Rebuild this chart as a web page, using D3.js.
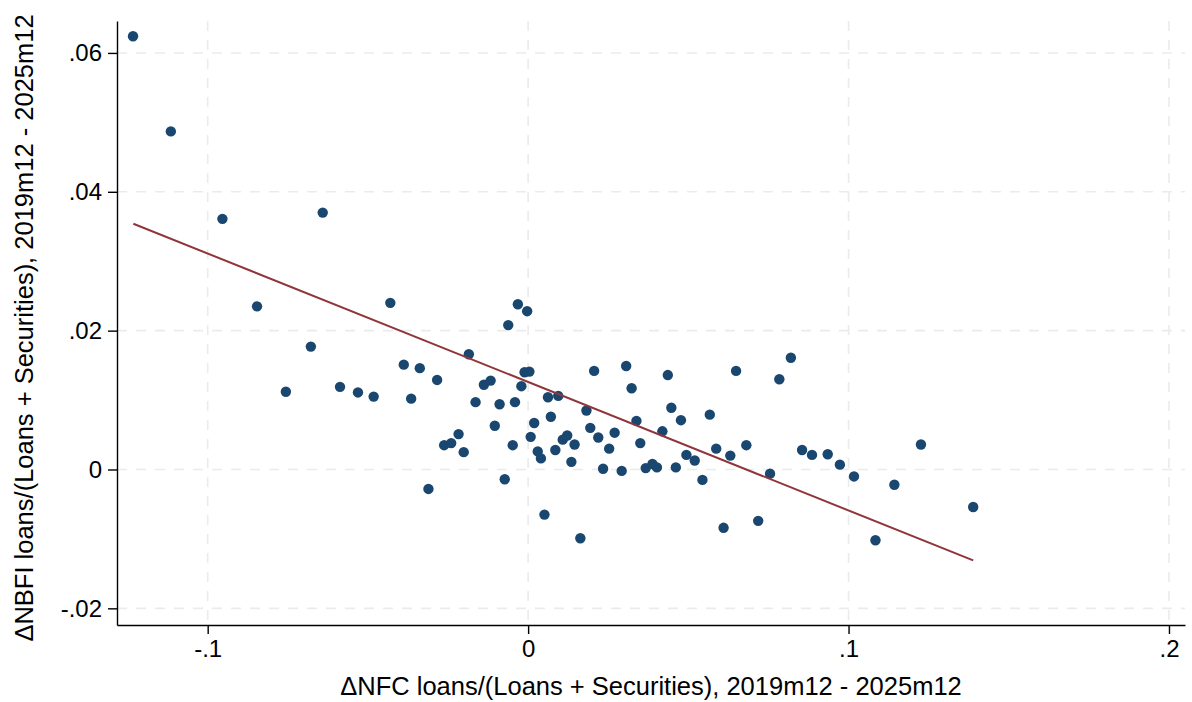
<!DOCTYPE html>
<html>
<head>
<meta charset="utf-8">
<script src="https://cdn.jsdelivr.net/npm/d3@7"></script>
<style>
  body { margin: 0; background: #fff; }
  svg { display: block; font-family: "Liberation Sans", Arial, sans-serif; }
  .grid line { stroke: #ebebeb; stroke-width: 1.6; stroke-dasharray: 10,9; }
  .axis path, .axis line { stroke: #000; stroke-width: 1.4; }
  .axis text { fill: #000; font-size: 24px; }
  .title { fill: #000; font-size: 25.5px; }
</style>
</head>
<body>
<div id="chart"></div>
<script>
// change in NFC loans share (x) vs change in NBFI loans share (y)
var nfcChange = [
  -0.1233, -0.1115, -0.0954, -0.0846, -0.0641, -0.0756, -0.0678, -0.0587, -0.0531, -0.0482,
  -0.0430, -0.0388, -0.0365, -0.0338, -0.0311, -0.0284, -0.0262, -0.0240, -0.0217, -0.0201,
  -0.0185, -0.0164, -0.0138, -0.0117, -0.0104, -0.0089, -0.0073, -0.0062, -0.0048, -0.0041,
  -0.0032, -0.0021, -0.0011, -0.0003, 0.0004, 0.0008, 0.0019, 0.0030, 0.0040, 0.0051,
  0.0062, 0.0071, 0.0085, 0.0094, 0.0108, 0.0122, 0.0135, 0.0145, 0.0163, 0.0182,
  0.0194, 0.0206, 0.0219, 0.0234, 0.0253, 0.0270, 0.0292, 0.0306, 0.0323, 0.0338,
  0.0350, 0.0367, 0.0388, 0.0402, 0.0419, 0.0436, 0.0447, 0.0461, 0.0477, 0.0494,
  0.0520, 0.0544, 0.0567, 0.0587, 0.0610, 0.0631, 0.0649, 0.0681, 0.0718, 0.0755,
  0.0784, 0.0820, 0.0855, 0.0886, 0.0935, 0.0973, 0.1017, 0.1084, 0.1143, 0.1226,
  0.1389
];
var nbfiChange = [
  0.0624, 0.0487, 0.0361, 0.0235, 0.0370, 0.0112, 0.0177, 0.0119, 0.0111, 0.0105,
  0.0240, 0.0151, 0.0102, 0.0146, -0.0028, 0.0129, 0.0035, 0.0038, 0.0051, 0.0025,
  0.0166, 0.0097, 0.0122, 0.0128, 0.0063, 0.0094, -0.0014, 0.0208, 0.0035, 0.0097,
  0.0238, 0.0120, 0.0140, 0.0228, 0.0141, 0.0047, 0.0067, 0.0026, 0.0016, -0.0065,
  0.0104, 0.0076, 0.0028, 0.0106, 0.0043, 0.0049, 0.0011, 0.0036, -0.0099, 0.0085,
  0.0060, 0.0142, 0.0046, 0.0001, 0.0030, 0.0053, -0.0002, 0.0149, 0.0117, 0.0070,
  0.0038, 0.0002, 0.0008, 0.0003, 0.0055, 0.0136, 0.0089, 0.0003, 0.0071, 0.0021,
  0.0013, -0.0015, 0.0079, 0.0030, -0.0084, 0.0020, 0.0142, 0.0035, -0.0074, -0.0006,
  0.0130, 0.0161, 0.0028, 0.0021, 0.0022, 0.0007, -0.0010, -0.0102, -0.0022, 0.0036,
  -0.0054
];

// fitted line endpoints
var fitX = [-0.1232, 0.1389];
var fitY = [0.0354, -0.0131];

var xTicks = [-0.1, 0, 0.1, 0.2];
var xTickLabels = ['-.1', '0', '.1', '.2'];
var yTicks = [-0.02, 0, 0.02, 0.04, 0.06];
var yTickLabels = ['-.02', '0', '.02', '.04', '.06'];

var xTitle = '\u0394NFC loans/(Loans + Securities), 2019m12 - 2025m12';
var yTitle = '\u0394NBFI loans/(Loans + Securities), 2019m12 - 2025m12';

var margin = {left: 117, right: 7, top: 21, bottom: 77};
var width = 1192 - margin.left - margin.right;
var height = 702 - margin.top - margin.bottom;

var x = d3.scaleLinear().domain([-0.1283, 0.2050]).range([0, width]);
var y = d3.scaleLinear().domain([-0.0224, 0.0646]).range([height, 0]);

var svg = d3.select("#chart").append("svg").attr("width", 1192).attr("height", 702);
var g = svg.append("g").attr("transform", "translate(" + margin.left + "," + margin.top + ")");

// grid
g.append("g").attr("class", "grid")
    .selectAll("line.h").data(yTicks).enter().append("line")
    .attr("x1", 0).attr("x2", width)
    .attr("y1", function (d) { return y(d); })
    .attr("y2", function (d) { return y(d); });
g.append("g").attr("class", "grid")
    .selectAll("line.v").data(xTicks).enter().append("line")
    .attr("y1", 0).attr("y2", height)
    .attr("x1", function (d) { return x(d); })
    .attr("x2", function (d) { return x(d); });

// axes
var xAxis = d3.axisBottom(x).tickValues(xTicks).tickSize(9).tickPadding(6).tickSizeOuter(0)
    .tickFormat(function (d, i) { return xTickLabels[i]; });
var yAxis = d3.axisLeft(y).tickValues(yTicks).tickSize(9).tickPadding(6).tickSizeOuter(0)
    .tickFormat(function (d, i) { return yTickLabels[i]; });

g.append("g").attr("class", "axis x")
    .attr("transform", "translate(0," + height + ")")
    .call(xAxis)
    .call(function (s) { s.selectAll("text").attr("font-family", null); s.attr("font-family", null).attr("font-size", null); });
g.append("g").attr("class", "axis y")
    .call(yAxis)
    .call(function (s) { s.attr("font-family", null).attr("font-size", null); });

// scatter
var pts = nfcChange.map(function (d, i) { return {x: d, y: nbfiChange[i]}; });
g.append("g").selectAll("circle").data(pts).enter().append("circle")
    .attr("cx", function (d) { return x(d.x); })
    .attr("cy", function (d) { return y(d.y); })
    .attr("r", 5.2)
    .attr("fill", "#1a476f");

// fitted line
var line = d3.line()
    .x(function (d, i) { return x(fitX[i]); })
    .y(function (d, i) { return y(fitY[i]); });
g.append("path").attr("d", line(fitX))
    .attr("fill", "none").attr("stroke", "#90353b").attr("stroke-width", 2);

// titles
svg.append("text").attr("class", "title")
    .attr("x", margin.left + width / 2).attr("y", 695)
    .attr("text-anchor", "middle").text(xTitle);
svg.append("text").attr("class", "title")
    .attr("transform", "translate(33," + (margin.top + height / 2 + 5) + ") rotate(-90)")
    .attr("text-anchor", "middle").text(yTitle);
</script>
</body>
</html>
